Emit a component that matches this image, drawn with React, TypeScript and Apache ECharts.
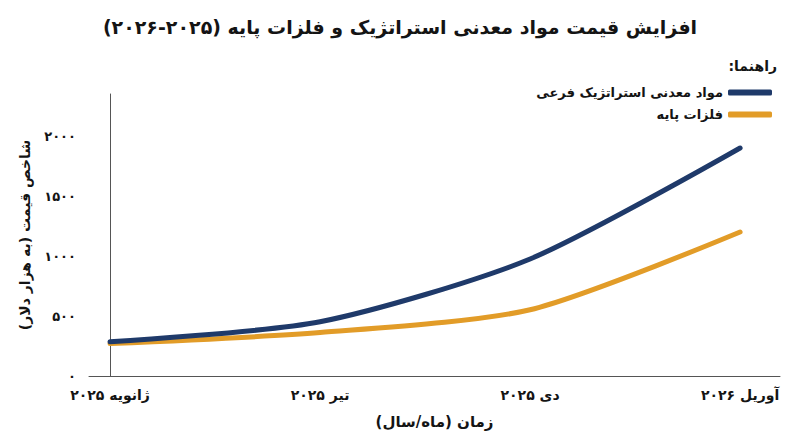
import { useEffect, useRef } from 'react';
import * as echarts from 'echarts';

const RLM = '\u200F';

const months = ['ژانویه ۲۰۲۵', 'تیر ۲۰۲۵', 'دی ۲۰۲۵', 'آوریل ۲۰۲۶'];
const monthPositions = [0, 1, 2, 3];

const strategicMinerals = [285, 452, 975, 1900];
const baseMetals = [270, 362, 552, 1200];

const yTicks = [0, 500, 1000, 1500, 2000];
const yTickLabels = ['۰', '۵۰۰', '۱۰۰۰', '۱۵۰۰', '۲۰۰۰'];

const seriesNames = ['مواد معدنی استراتژیک فرعی', 'فلزات پایه'];

const FONT = "'DejaVu Sans', 'Noto Sans', sans-serif";
const NAVY = '#1f3a6a';
const GOLD = '#e29c28';
const INK = '#141414';

export default function App() {
  const chartRef = useRef<HTMLDivElement>(null);

  useEffect(() => {
    if (!chartRef.current) return;
    const chart = echarts.init(chartRef.current, null, { renderer: 'svg' });

    const option: echarts.EChartsOption = {
      animation: false,
      backgroundColor: '#ffffff',
      textStyle: { fontFamily: FONT },
      title: {
        text: 'افزایش قیمت مواد معدنی استراتژیک و فلزات پایه (۲۰۲۵' + RLM + '-' + RLM + '۲۰۲۶)' + RLM,
        left: 'center',
        top: 12,
        textStyle: { fontFamily: FONT, fontSize: 19, fontWeight: 'bold', color: INK },
      },
      graphic: [
        {
          type: 'text',
          right: 23,
          top: 59,
          style: {
            text: 'راهنما:' + RLM,
            font: `bold 14px ${FONT}`,
            fill: INK,
          },
        },
      ],
      legend: {
        orient: 'vertical',
        right: 23,
        top: 81,
        align: 'right',
        icon: 'roundRect',
        itemWidth: 44,
        itemHeight: 6,
        itemGap: 9,
        data: seriesNames,
        textStyle: { fontFamily: FONT, fontSize: 13, fontWeight: 'bold', color: INK },
      },
      grid: {
        left: 89,
        right: 20,
        top: 94,
        bottom: 71,
        containLabel: false,
      },
      xAxis: {
        type: 'value',
        min: -0.1,
        max: 3.19,
        name: 'زمان (ماه/سال)' + RLM,
        nameLocation: 'middle',
        nameGap: 38,
        nameTextStyle: { fontFamily: FONT, fontSize: 15, fontWeight: 'bold', color: INK },
        axisLine: { show: true, lineStyle: { color: '#555555', width: 1 } },
        axisTick: { show: false },
        splitLine: { show: false },
        axisLabel: {
          customValues: monthPositions,
          margin: 12,
          fontFamily: FONT,
          fontSize: 14,
          fontWeight: 'bold',
          color: INK,
          formatter: (v: number) => months[Math.round(v)] ?? '',
        },
      },
      yAxis: {
        type: 'value',
        min: 0,
        max: 2350,
        name: 'شاخص قیمت (به هزار دلار)' + RLM,
        nameLocation: 'middle',
        nameGap: 57,
        nameRotate: 90,
        nameTextStyle: { fontFamily: FONT, fontSize: 14, fontWeight: 'bold', color: INK },
        axisLine: { show: true, lineStyle: { color: '#555555', width: 1 } },
        axisTick: { show: false },
        splitLine: { show: false },
        axisLabel: {
          customValues: yTicks,
          margin: 13,
          fontFamily: FONT,
          fontSize: 13,
          fontWeight: 'bold',
          color: INK,
          formatter: (v: number) => yTickLabels[yTicks.indexOf(v)] ?? '',
        },
      },
      series: [
        {
          name: seriesNames[0],
          type: 'line',
          data: monthPositions.map((x, i) => [x, strategicMinerals[i]]),
          smooth: 0.25,
          showSymbol: false,
          z: 3,
          color: NAVY,
          lineStyle: { color: NAVY, width: 5, cap: 'round', join: 'round' },
        },
        {
          name: seriesNames[1],
          type: 'line',
          data: monthPositions.map((x, i) => [x, baseMetals[i]]),
          smooth: 0.25,
          showSymbol: false,
          z: 2,
          color: GOLD,
          lineStyle: { color: GOLD, width: 5, cap: 'round', join: 'round' },
        },
      ],
    };

    chart.setOption(option);
    return () => {
      chart.dispose();
    };
  }, []);

  return (
    <div
      ref={chartRef}
      style={{ position: 'fixed', left: 0, top: 0, width: 800, height: 447, background: '#fff' }}
    />
  );
}
